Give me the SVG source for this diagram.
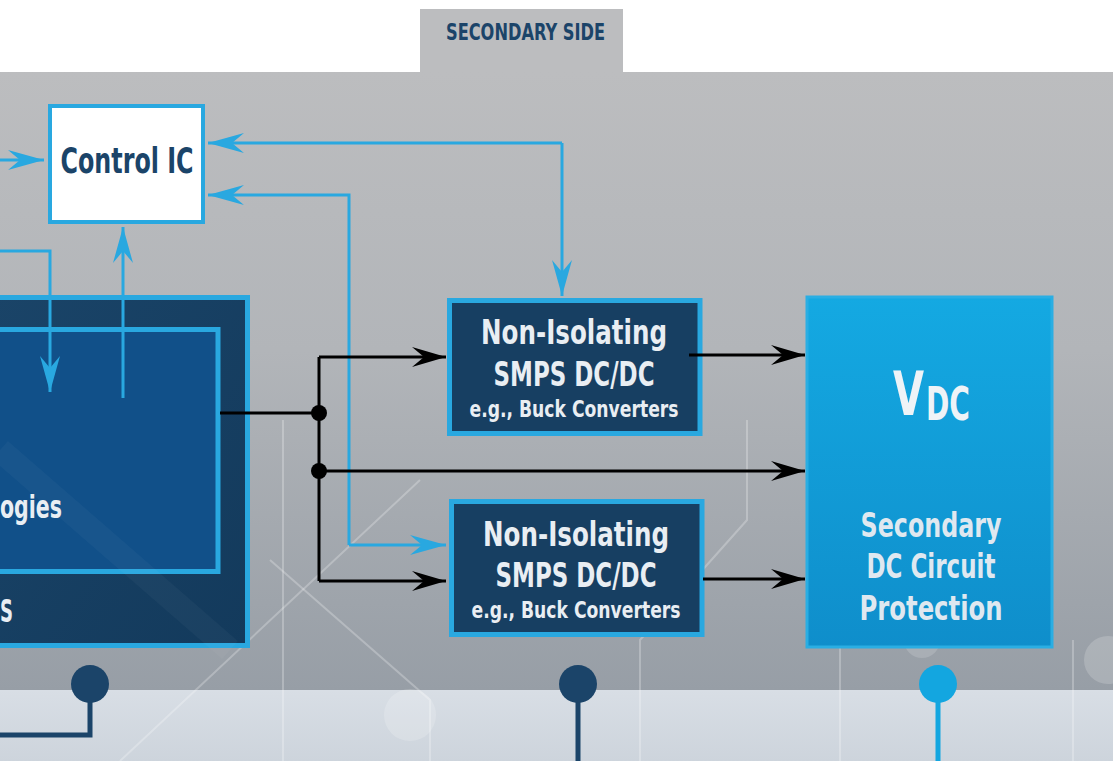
<svg xmlns="http://www.w3.org/2000/svg" width="1113" height="761" viewBox="0 0 1113 761">
<defs>
<style>
.t{font-family:"Liberation Sans Narrow","DejaVu Sans Condensed","Liberation Sans",sans-serif;font-weight:bold}
.blue{fill:none;stroke:#29a8e0;stroke-width:3}
.blk{fill:none;stroke:#000;stroke-width:3}
.wt{fill:#e9eef3}
.deco{fill:none;stroke:#ffffff;stroke-opacity:0.25;stroke-width:2}
</style>
<linearGradient id="bg" x1="0" y1="0" x2="0" y2="1">
<stop offset="0" stop-color="#bcbdbf"/>
<stop offset="0.45" stop-color="#b2b5b9"/>
<stop offset="1" stop-color="#979ea6"/>
</linearGradient>
<linearGradient id="band" x1="0" y1="0" x2="0" y2="1">
<stop offset="0" stop-color="#d8dee5"/>
<stop offset="1" stop-color="#cdd4dc"/>
</linearGradient>
<linearGradient id="vdc" x1="0" y1="0" x2="0" y2="1">
<stop offset="0" stop-color="#14a9e2"/>
<stop offset="1" stop-color="#0f8ecb"/>
</linearGradient>
<linearGradient id="outer" x1="0" y1="0" x2="1" y2="1">
<stop offset="0" stop-color="#1a4468"/>
<stop offset="1" stop-color="#133a5c"/>
</linearGradient>
<marker id="ab" markerUnits="userSpaceOnUse" markerWidth="40" markerHeight="24" viewBox="-36 -12 40 24" refX="0" refY="0" orient="auto">
<path d="M-36,-10 L0,0 L-36,10 L-24,0 z" fill="#29a8e0"/>
</marker>
<marker id="ak" markerUnits="userSpaceOnUse" markerWidth="40" markerHeight="24" viewBox="-36 -12 40 24" refX="0" refY="0" orient="auto">
<path d="M-34,-10 L0,0 L-34,10 L-22,0 z" fill="#000"/>
</marker>
</defs>

<rect x="0" y="0" width="1113" height="761" fill="#ffffff"/>
<rect x="420" y="9" width="203" height="64" fill="#bcbdbf"/>
<rect x="0" y="72" width="1113" height="619" fill="url(#bg)"/>
<rect x="0" y="690" width="1113" height="71" fill="url(#band)"/>

<g id="decor">
<path class="deco" d="M283 420 V761"/>
<path class="deco" d="M120 761 L420 480"/>
<path class="deco" d="M747 420 V520 L640 640 V761"/>
<path class="deco" d="M270 560 L430 700 V761"/>
<path class="deco" d="M840 640 V761"/>
<path class="deco" d="M1073 640 V761"/>
<circle cx="410" cy="715" r="26" fill="#ffffff" fill-opacity="0.18"/>
<circle cx="1108" cy="660" r="24" fill="#ffffff" fill-opacity="0.18"/>
<circle cx="922" cy="640" r="18" fill="#ffffff" fill-opacity="0.15"/>
</g>

<text class="t" x="525.5" y="40" font-size="23" fill="#1b4469" text-anchor="middle" textLength="159" lengthAdjust="spacingAndGlyphs">SECONDARY SIDE</text>

<g id="control-ic">
<rect x="50" y="106" width="153" height="116" fill="#ffffff" stroke="#29a8e0" stroke-width="4"/>
<text class="t" x="127" y="173" font-size="36" fill="#1b4469" text-anchor="middle" textLength="133" lengthAdjust="spacingAndGlyphs">Control IC</text>
</g>

<g id="primary-block">
<rect x="-10" y="297.5" width="257.5" height="348" fill="url(#outer)" stroke="#29a8e0" stroke-width="5"/>
<rect x="-10" y="329.5" width="228" height="242" fill="#115089" stroke="#29a8e0" stroke-width="5"/>
<path d="M0 450 L230 650" stroke="#ffffff" stroke-opacity="0.03" stroke-width="24" fill="none"/>
<text class="t wt" x="0" y="518" font-size="32" textLength="62" lengthAdjust="spacingAndGlyphs">ogies</text>
<text class="t wt" x="0" y="622" font-size="32" textLength="13" lengthAdjust="spacingAndGlyphs">S</text>
</g>

<g id="buck-upper">
<rect x="449.5" y="300.5" width="250.5" height="133" fill="#173f62" stroke="#29a8e0" stroke-width="5"/>
<text class="t wt" x="574" y="344" font-size="34" text-anchor="middle" textLength="186" lengthAdjust="spacingAndGlyphs">Non-Isolating</text>
<text class="t wt" x="574" y="386" font-size="34" text-anchor="middle" textLength="161" lengthAdjust="spacingAndGlyphs">SMPS DC/DC</text>
<text class="t wt" x="574" y="417" font-size="23" text-anchor="middle" textLength="209" lengthAdjust="spacingAndGlyphs">e.g., Buck Converters</text>
</g>

<g id="buck-lower">
<rect x="451.5" y="501.5" width="250.5" height="133" fill="#173f62" stroke="#29a8e0" stroke-width="5"/>
<text class="t wt" x="576" y="546" font-size="34" text-anchor="middle" textLength="186" lengthAdjust="spacingAndGlyphs">Non-Isolating</text>
<text class="t wt" x="576" y="587" font-size="34" text-anchor="middle" textLength="161" lengthAdjust="spacingAndGlyphs">SMPS DC/DC</text>
<text class="t wt" x="576" y="618" font-size="23" text-anchor="middle" textLength="209" lengthAdjust="spacingAndGlyphs">e.g., Buck Converters</text>
</g>

<g id="vdc-block">
<rect x="807" y="297" width="245" height="350" fill="url(#vdc)" stroke="#2aaee3" stroke-width="3"/>
<text class="t" x="893" y="415" fill="#eef3f7"><tspan font-size="60" textLength="31" lengthAdjust="spacingAndGlyphs">V</tspan><tspan font-size="46" dy="5" dx="2" textLength="44" lengthAdjust="spacingAndGlyphs">DC</tspan></text>
<text class="t" x="931" y="537" font-size="34" fill="#dfe8f0" text-anchor="middle" textLength="141" lengthAdjust="spacingAndGlyphs">Secondary</text>
<text class="t" x="931" y="578" font-size="34" fill="#dfe8f0" text-anchor="middle" textLength="129" lengthAdjust="spacingAndGlyphs">DC Circuit</text>
<text class="t" x="931" y="620" font-size="34" fill="#dfe8f0" text-anchor="middle" textLength="143" lengthAdjust="spacingAndGlyphs">Protection</text>
</g>

<g id="connectors">
<path class="blue" d="M0 160 H44" marker-end="url(#ab)"/>
<path class="blue" d="M562 143 H208" marker-end="url(#ab)"/>
<path class="blue" d="M562 143 V296" marker-end="url(#ab)"/>
<path class="blue" d="M349 545 V195 H208" marker-end="url(#ab)"/>
<path class="blue" d="M349 545 H446" marker-end="url(#ab)"/>
<path class="blue" d="M0 251 H50 V392" marker-end="url(#ab)"/>
<path class="blue" d="M123 398 V227" marker-end="url(#ab)"/>
<path class="blk" d="M220 413 H319"/>
<path class="blk" d="M319 357 V581"/>
<path class="blk" d="M319 357 H446" marker-end="url(#ak)"/>
<path class="blk" d="M319 471 H805" marker-end="url(#ak)"/>
<path class="blk" d="M319 581 H446" marker-end="url(#ak)"/>
<path class="blk" d="M689 355 H805" marker-end="url(#ak)"/>
<path class="blk" d="M703 579 H805" marker-end="url(#ak)"/>
<circle cx="319" cy="413" r="8" fill="#000"/>
<circle cx="319" cy="471" r="8" fill="#000"/>
<path d="M90 684 V735 H0" fill="none" stroke="#1b4469" stroke-width="5"/>
<path d="M578 684 V761" fill="none" stroke="#1b4469" stroke-width="5"/>
<path d="M938 684 V761" fill="none" stroke="#13a6e0" stroke-width="5"/>
</g>

<g id="dots">
<circle cx="90" cy="684" r="19" fill="#1b4469"/>
<circle cx="578" cy="684" r="19" fill="#1b4469"/>
<circle cx="938" cy="684" r="19" fill="#13a6e0"/>
</g>
</svg>
